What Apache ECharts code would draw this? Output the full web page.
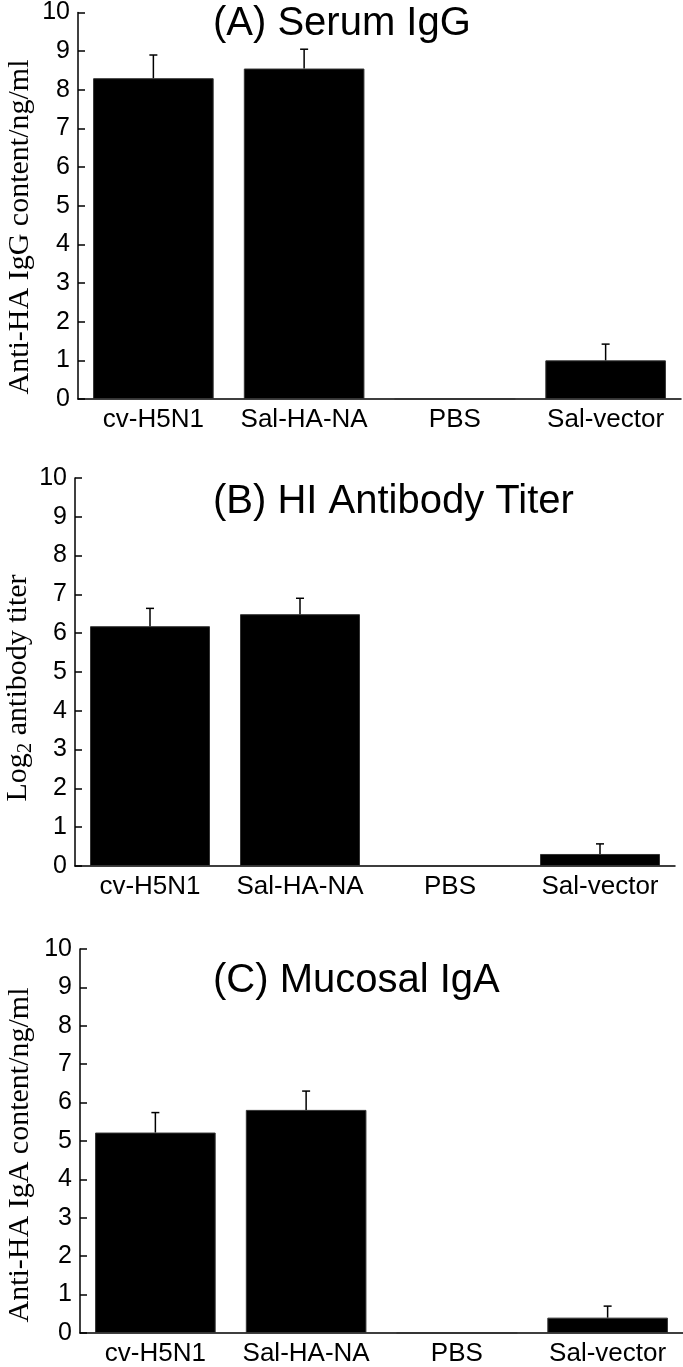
<!DOCTYPE html>
<html>
<head>
<meta charset="utf-8">
<title>Anti-HA antibody</title>
<script src="https://cdn.jsdelivr.net/npm/echarts@6/dist/echarts.min.js"></script>
<style>
    html, body { margin: 0; padding: 0; background: #fff; }
    #chart { width: 683px; height: 1367px; }
</style>
</head>
<body>
<div id="chart"></div>
<script>
// 数据
var categories = ["cv-H5N1", "Sal-HA-NA", "PBS", "Sal-vector"];
var yTicks = [0, 10, 1];

var iggMean = [8.3, 8.55, 0, 1.0];
var iggErr = [0.6, 0.5, 0, 0.42];

var hiMean = [6.18, 6.49, 0, 0.31];
var hiErr = [0.46, 0.41, 0, 0.26];

var igaMean = [5.22, 5.81, 0, 0.4];
var igaErr = [0.52, 0.49, 0, 0.3];

var titles = ["(A) Serum IgG", "(B) HI Antibody Titer", "(C) Mucosal IgA"];

var chart = echarts.init(document.getElementById("chart"), null, {renderer: "canvas"});

var sans = "Liberation Sans, Arial, sans-serif";
var serif = "Liberation Serif, Times New Roman, serif";

var grids = [
    {left: 78, top: 11, width: 603, height: 388},
    {left: 75, top: 478, width: 600, height: 388},
    {left: 80, top: 949, width: 603, height: 389}
];

function buildX(i) {
    return {
        type: "category", gridIndex: i, data: categories,
        axisLine: {lineStyle: {color: "#000", width: 1.5}},
        axisTick: {show: false},
        axisLabel: {color: "#000", fontFamily: sans, fontSize: 26, margin: 8, interval: 0}
    };
}

function buildY(i) {
    return {
        type: "value", gridIndex: i, min: yTicks[0], max: yTicks[1], interval: yTicks[2],
        axisLine: {show: true, lineStyle: {color: "#000", width: 1.5}},
        axisTick: {show: true, inside: true, length: 7, lineStyle: {color: "#000", width: 1.5}},
        axisLabel: {color: "#000", fontFamily: sans, fontSize: 25, margin: 8},
        splitLine: {show: false}
    };
}

function bar(i, mean) {
    return {
        type: "bar", xAxisIndex: i, yAxisIndex: i, data: mean,
        barCategoryGap: "20%",
        itemStyle: {color: "#000", borderColor: "#333", borderWidth: 1},
        silent: true
    };
}

//误差线
function renderErr(params, api) {
    var e = api.value(2);
    if (!e) return;
    var base = api.coord([api.value(0), api.value(1)]);
    var top = api.coord([api.value(0), api.value(1) + e]);
    var st = {stroke: "#000", lineWidth: 1.5};
    return {
        type: "group",
        children: [
            {type: "line", shape: {x1: top[0], y1: base[1], x2: top[0], y2: top[1]}, style: st},
            {type: "line", shape: {x1: top[0] - 4, y1: top[1], x2: top[0] + 4, y2: top[1]}, style: st}
        ]
    };
}

function errSeries(i, mean, err) {
    var d = mean.map(function (v, k) {
        return [k, v, err[k]];
    });
    return {
        type: "custom", xAxisIndex: i, yAxisIndex: i, data: d,
        renderItem: renderErr, z: 5, silent: true
    };
}

function yName(x, y, text, rich) {
    return {
        type: "text", x: x, y: y, rotation: Math.PI / 2,
        style: {
            text: text, fill: "#000", font: "30px " + serif,
            align: "center", verticalAlign: "middle", rich: rich
        }
    };
}

var subRich = {
    a: {fontFamily: serif, fontSize: 30, color: "#000"},
    s: {fontFamily: serif, fontSize: 21, color: "#000", padding: [14, 0, 0, 0]}
};

var option = {
    animation: false,
    backgroundColor: "#fff",
    title: [
        {text: titles[0], left: 213, top: 4},
        {text: titles[1], left: 213, top: 482},
        {text: titles[2], left: 213, top: 961}
    ].map(function (t) {
        t.textStyle = {color: "#000", fontFamily: sans, fontSize: 40, fontWeight: "normal"};
        t.padding = 0;
        return t;
    }),
    grid: grids,
    xAxis: [buildX(0), buildX(1), buildX(2)],
    yAxis: [buildY(0), buildY(1), buildY(2)],
    series: [
        bar(0, iggMean), bar(1, hiMean), bar(2, igaMean),
        errSeries(0, iggMean, iggErr), errSeries(1, hiMean, hiErr), errSeries(2, igaMean, igaErr)
    ],
    graphic: [
        yName(20, 227, "Anti-HA IgG content/ng/ml"),
        yName(18, 688, "{a|Log}{s|2}{a| antibody titer}", subRich),
        yName(20, 1155, "Anti-HA IgA content/ng/ml")
    ]
};
chart.setOption(option);
</script>
</body>
</html>
